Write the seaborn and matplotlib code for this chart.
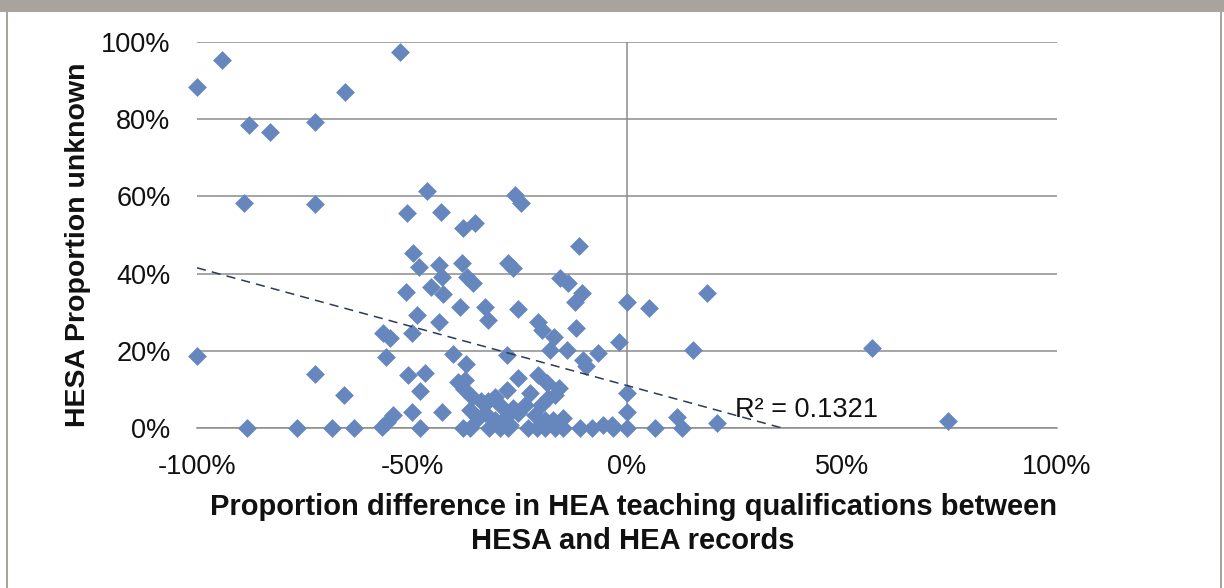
import matplotlib
matplotlib.use("Agg")
import numpy as np
import pandas as pd
import matplotlib.pyplot as plt
import seaborn as sns
from matplotlib.patches import Rectangle
from matplotlib.ticker import FuncFormatter

# Values (percent)
diff_pct = [
    -100, -94.2, -87.9, -83, -72.6, -65.6, -52.8, -89, -72.6, -100, -72.6, -65.8,
    -88.4, -76.7, -68.6, -63.5,
    -46.5, -51.2, -43.3, -38.1, -35.3, -26, -24.7, -11.2, -49.8, -48.4, -43.7, -43,
    -38.4, -37.2, -35.8, -51.4, -45.6, -42.8, -27.7, -26.5, -15.6, -13.7, -10.5, -12.1,
    0, 5, 18.5, -38.8, -33, -32.3, -48.8, -43.7, -56.7, -55.1, -50, -56, -40.5, -37.4,
    -50.9, -47, -48.1, -39.3, -37.7, -43, -50, -54.4, -55.8, -57, -48.1,
    -25.3, -20.7, -19.8, -11.9, -17, -1.9, -17.9, -14, -6.7, -10.2, -9.5, -27.9,
    0, 0, -25.3, -20.7, -18.6, -15.8, -27.9, -22.6, -26.5,
    15.3, 57, 11.6, 12.8, 20.9, 6.5, 74.7, -3.5, -5.6,
    -38.1, -36.5, -32.1, -29.5, -27.7, -23, -20.9, -19, -16.7, -14.9, -11, -8.1, -3.3, 0,
    -38, -36, -34, -32.3, -30.7, -29.5, -36.5, -34.7, -33, -30.7, -28.4, -27.2, -25.3,
    -23.7, -21.4, -19, -17.2, -14.9, -20, -18.4, -16.7,
]
unknown_pct = [
    88.3, 95.3, 78.5, 76.7, 79.3, 87, 97.4, 58.3, 58, 18.7, 14, 8.5,
    0, 0, 0, 0,
    61.4, 55.7, 56, 51.8, 53.1, 60.4, 58.3, 47.2, 45.3, 41.7, 42.2, 39.1,
    42.7, 39.1, 37.6, 35.2, 36.5, 34.7, 42.7, 41.5, 38.9, 37.6, 35, 32.6,
    32.6, 31.1, 35.1, 31.3, 31.3, 28, 29.3, 27.5, 24.6, 23.3, 24.6, 18.4, 19.2, 16.6,
    13.7, 14.2, 9.6, 11.9, 12.4, 4.1, 4.1, 3.4, 1.6, 0.3, 0,
    30.8, 27.5, 25.4, 25.9, 23.6, 22.3, 20.2, 20.2, 19.4, 17.6, 16.1, 18.9,
    9, 4.1, 13, 13.7, 11.7, 10.4, 9.8, 9, 5.2,
    20.2, 20.7, 2.8, 0, 1.3, 0, 1.8, 0.8, 0.8,
    0, 0, 0, 0, 0, 0, 0, 0, 0, 0, 0, 0, 0, 0,
    10, 8, 7, 7, 8, 6, 4.7, 2.6, 3.9, 2, 2.6, 0.8, 4,
    6, 3.4, 2, 2, 2.6, 6, 7.8, 8.5,
]

# linear trendline as shown (percent units) and its label
trend_slope = -0.305
trend_intercept = 11.0
r2_label = "R² = 0.1321"

x_ticks = [-100, -50, 0, 50, 100]
y_ticks = [0, 20, 40, 60, 80, 100]
x_label = "Proportion difference in HEA teaching qualifications between\nHESA and HEA records"
y_label = "HESA Proportion unknown"

df = pd.DataFrame({"diff": diff_pct, "unknown": unknown_pct})

sns.set_style("white")
plt.rcParams['font.family'] = ['Liberation Sans', 'DejaVu Sans']

W, H = 1224, 588
fig = plt.figure(figsize=(W / 100, H / 100), dpi=100)

# frame around the figure: grey caption band and side borders
frame_grey = "#a8a39c"
fig.patches.append(Rectangle((0, 1 - 12 / H), 1, 12 / H, transform=fig.transFigure,
                             facecolor=frame_grey, edgecolor="none"))
fig.patches.append(Rectangle((6 / W, 0), 2 / W, 1, transform=fig.transFigure,
                             facecolor=frame_grey, edgecolor="none"))
fig.patches.append(Rectangle((1220 / W, 0), 2 / W, 1, transform=fig.transFigure,
                             facecolor=frame_grey, edgecolor="none"))

ax = fig.add_axes([197 / W, 1 - 428 / H, 860 / W, 386 / H])

grid_grey = "#8c8c8c"
ax.set_axisbelow(True)
ax.yaxis.grid(True, color=grid_grey, linewidth=1.1)
ax.axvline(0, color=grid_grey, linewidth=1.1, zorder=1)

sns.scatterplot(data=df, x="diff", y="unknown", marker="D", s=92, color="#6687be",
                linewidth=0, ax=ax, clip_on=False, zorder=3)

# trendline, cut where it reaches the axis minimum
x_end = -trend_intercept / trend_slope
xs = np.array([x_ticks[0], x_end])
ax.plot(xs, trend_intercept + trend_slope * xs, color="#2c3a58", linewidth=1.1,
        linestyle=(0, (6, 4)), zorder=4)
ax.text(25.1, 2.8, r2_label, fontsize=19.5, color="#111111", zorder=5)

ax.set_xlim(-100, 100)
ax.set_ylim(0, 100)
ax.set_xticks(x_ticks)
ax.set_yticks(y_ticks)
pct = FuncFormatter(lambda v, p: f"{v:.0f}%")
ax.xaxis.set_major_formatter(pct)
ax.yaxis.set_major_formatter(pct)

for side in ["left", "top", "right"]:
    ax.spines[side].set_visible(False)
ax.spines["bottom"].set_color(grid_grey)
ax.spines["bottom"].set_linewidth(1.1)

ax.tick_params(axis="x", direction="out", length=7, width=1.1, color=grid_grey,
               labelsize=19.5, pad=12, labelcolor="#111111")
ax.tick_params(axis="y", length=0, labelsize=19.5, pad=19, labelcolor="#111111")

ax.set_xlabel(x_label, fontsize=21, fontweight="bold", labelpad=9, color="#111111",
              linespacing=1.3)
ax.set_ylabel(y_label, fontsize=20.5, fontweight="bold", labelpad=7, color="#111111")
ax.xaxis.label.set_x(0.507)
ax.yaxis.label.set_y(0.475)

fig.savefig("out.png", dpi=100)
